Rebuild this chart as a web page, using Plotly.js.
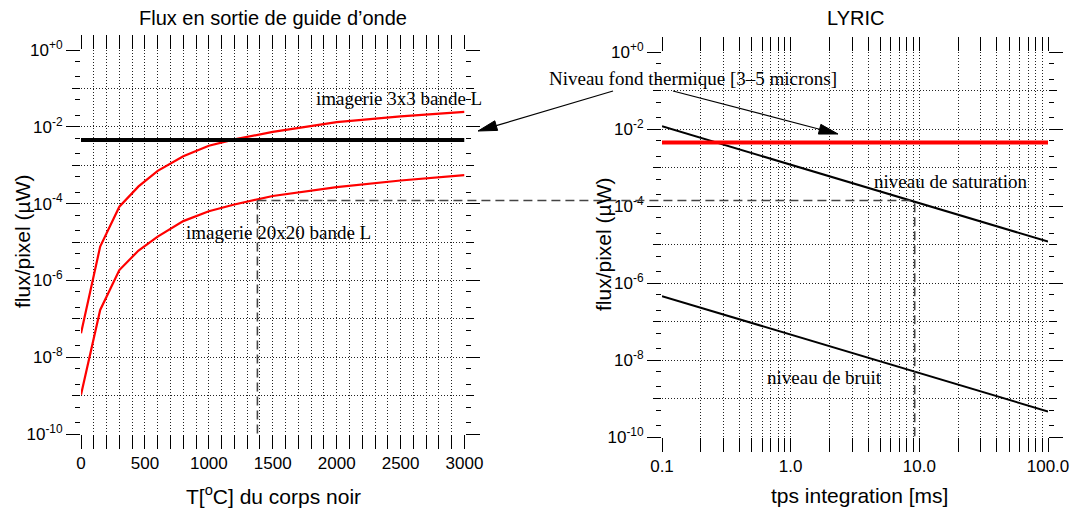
<!DOCTYPE html>
<html><head><meta charset="utf-8">
<script src="https://cdn.plot.ly/plotly-3.0.1.min.js"></script>
<style>html,body{margin:0;padding:0;background:#fff}</style>
</head><body><div id="chart" style="width:1070px;height:512px"></div>
<script>
// ---- data ----
const tempC      = [0, 150, 300, 450, 600, 800, 1000, 1200, 1500, 2000, 2500, 3000];
const flux3x3    = [4.2e-8, 7.6e-6, 8.3e-5, 2.8e-4, 7.1e-4, 1.7e-3, 3.2e-3, 4.7e-3, 7.4e-3, 1.32e-2, 1.86e-2, 2.45e-2];
const flux20x20  = [1.05e-9, 1.7e-7, 1.86e-6, 6.0e-6, 1.38e-5, 3.5e-5, 6.3e-5, 9.5e-5, 1.58e-4, 2.7e-4, 4.0e-4, 5.5e-4];
const tempSpan   = [0, 3000];
const thermalLevel = [4.5e-3, 4.5e-3];
const tInt       = [0.1, 100];
const saturation = [1.2e-2, 1.2e-5];
const noise      = [4.6e-7, 4.6e-10];
const markerFlux = 1.2e-4;
const markerTemp = 1380;
const markerTime = 9.2;
const fluxFloor  = 1e-10;

const xTickT     = [0, 500, 1000, 1500, 2000, 2500, 3000];
const xTickMs    = [0.1, 1, 10, 100];
const xTickMsTxt = ['0.1', '1.0', '10.0', '100.0'];
const yTickVals  = [1e0, 1e-2, 1e-4, 1e-6, 1e-8, 1e-10];
const yTickTxt   = ['10<sup>+0</sup>', '10<sup>-2</sup>', '10<sup>-4</sup>', '10<sup>-6</sup>', '10<sup>-8</sup>', '10<sup>-10</sup>'];
const yOddDec    = [1e-1, 1e-3, 1e-5, 1e-7, 1e-9];

// ---- derived tick lists ----
const yFine = [];
for (let e = -10; e < 0; e++) { yFine.push(2 * Math.pow(10, e), 5 * Math.pow(10, e)); }
const xMinorMs = [];
for (let e = -1; e < 2; e++) { for (let m = 2; m <= 9; m++) xMinorMs.push(m * Math.pow(10, e)); }

// ---- geometry ----
const W = 1070, H = 512, ML = 81, MR = 22, MT = 50, MB = 75;
const PW = W - ML - MR, PH = H - MT - MB;
const px = v => (v - ML) / PW;
const py = v => (H - MB - v) / PH;
const xDomL = [px(81), px(464.5)], xDomR = [px(662), 1];
const yDomL = [py(434), py(50)],   yDomR = [0, py(52.3)];
const xL = v => xDomL[0] + (v - tempSpan[0]) / (tempSpan[1] - tempSpan[0]) * (xDomL[1] - xDomL[0]);
const xR = v => xDomR[0] + (Math.log10(v) + 1) / 3 * (xDomR[1] - xDomR[0]);
const yL = v => yDomL[0] + (Math.log10(v) + 10) / 10 * (yDomL[1] - yDomL[0]);
const yR = v => yDomR[0] + (Math.log10(v) + 10) / 10 * (yDomR[1] - yDomR[0]);

const SANS = 'Liberation Sans, Arial, Helvetica, sans-serif';
const SERIF = 'Liberation Serif, Times New Roman, serif';
const GRID = {showgrid: true, gridcolor: '#222', gridwidth: 1, griddash: '1px,2px'};

const traces = [
  {x: tempC, y: flux3x3, xaxis: 'x', yaxis: 'y', mode: 'lines', line: {color: '#ff0000', width: 2.2}, hoverinfo: 'skip'},
  {x: tempC, y: flux20x20, xaxis: 'x', yaxis: 'y', mode: 'lines', line: {color: '#ff0000', width: 2.2}, hoverinfo: 'skip'},
  {x: tempSpan, y: thermalLevel, xaxis: 'x', yaxis: 'y3', mode: 'lines', line: {color: '#000', width: 4}, hoverinfo: 'skip'},
  {x: tInt, y: thermalLevel, xaxis: 'x2', yaxis: 'y4', mode: 'lines', line: {color: '#ff0000', width: 4}, hoverinfo: 'skip'},
  {x: tInt, y: saturation, xaxis: 'x2', yaxis: 'y2', mode: 'lines', line: {color: '#000', width: 2}, hoverinfo: 'skip'},
  {x: tInt, y: noise, xaxis: 'x2', yaxis: 'y2', mode: 'lines', line: {color: '#000', width: 2}, hoverinfo: 'skip'}
];

const tickBase = {ticks: 'outside', ticklen: 14, tickwidth: 1, tickcolor: '#000', mirror: 'allticks',
  showline: false, zeroline: false, tickfont: {family: SANS, size: 17, color: '#000'}};

function yMain(dom, anchor) {
  return Object.assign({}, tickBase, GRID, {
    domain: dom, anchor: anchor, type: 'log', range: [-10, 0],
    tickmode: 'array', tickvals: yTickVals, ticktext: yTickTxt,
    minor: Object.assign({tickmode: 'array', tickvals: yOddDec, ticks: 'outside', ticklen: 8, tickcolor: '#000'}, GRID)
  });
}
function yOver(over, anchor) {
  return {overlaying: over, anchor: anchor, side: 'left', type: 'log', range: [-10, 0],
    tickmode: 'array', tickvals: yFine, ticks: 'outside', ticklen: 5, tickcolor: '#000', tickwidth: 1,
    mirror: 'allticks', showticklabels: false, showgrid: false, zeroline: false, showline: false};
}

// ---- dashed guide lines & arrows (paper coords from the axis mappings) ----
const DASH = {color: '#444', width: 1.6, dash: '9px,5px'};
const shapes = [
  {type: 'line', xref: 'paper', yref: 'paper', x0: xL(markerTemp), x1: xR(markerTime), y0: yL(markerFlux), y1: yL(markerFlux), line: DASH},
  {type: 'line', xref: 'paper', yref: 'paper', x0: xL(markerTemp), x1: xL(markerTemp), y0: yL(markerFlux), y1: yL(fluxFloor), line: DASH},
  {type: 'line', xref: 'paper', yref: 'paper', x0: xR(markerTime), x1: xR(markerTime), y0: yR(markerFlux), y1: yR(fluxFloor), line: DASH}
];
function arrow(tx, ty, hx, hy) {
  const dx = hx - tx, dy = hy - ty, L = Math.hypot(dx, dy), ux = dx / L, uy = dy / L;
  const bx = hx - 19 * ux, by = hy - 19 * uy, nx = -uy * 5, ny = ux * 5;
  shapes.push({type: 'line', xref: 'paper', yref: 'paper', x0: px(tx), y0: py(ty), x1: px(bx), y1: py(by), line: {color: '#000', width: 1.2}});
  shapes.push({type: 'path', xref: 'paper', yref: 'paper', fillcolor: '#000', line: {color: '#000', width: 1},
    path: `M ${px(hx)} ${py(hy)} L ${px(bx + nx)} ${py(by + ny)} L ${px(bx - nx)} ${py(by - ny)} Z`});
}
arrow(613, 91, 478, 131);
arrow(673, 91, 838, 134);

function txt(text, x, y, opts) {
  return Object.assign({text: text, xref: 'paper', yref: 'paper', x: px(x), y: py(y), showarrow: false,
    xanchor: 'center', yanchor: 'middle', font: {family: SANS, size: 21, color: '#000'}}, opts || {});
}
const serif = {family: SERIF, size: 19, color: '#000'};
const annotations = [
  txt('Flux en sortie de guide d\u2019onde', 272.5, 18, {font: {family: SANS, size: 20, color: '#000'}}),
  txt('LYRIC', 855, 18, {font: {family: SANS, size: 20, color: '#000'}}),
  txt('T[<sup>o</sup>C] du corps noir', 273, 495),
  txt('tps integration [ms]', 859, 495),
  txt('flux/pixel (\u00b5W)', 22, 242, {textangle: -90}),
  txt('flux/pixel (\u00b5W)', 603, 245, {textangle: -90}),
  txt('imagerie 3x3 bande L', 314, 99, {xanchor: 'left', font: serif}),
  txt('imagerie 20x20 bande L', 184, 233, {xanchor: 'left', font: serif}),
  txt('Niveau fond thermique [3\u20135 microns]', 547, 78, {xanchor: 'left', font: serif}),
  txt('niveau de saturation', 872, 181, {xanchor: 'left', font: serif}),
  txt('niveau de bruit', 765, 377, {xanchor: 'left', font: serif})
];

const layout = {
  width: W, height: H, margin: {l: ML, r: MR, t: MT, b: MB, pad: 0},
  paper_bgcolor: '#fff', plot_bgcolor: '#fff', showlegend: false,
  xaxis: Object.assign({}, tickBase, GRID, {domain: xDomL, anchor: 'y', range: tempSpan,
    tickmode: 'array', tickvals: xTickT,
    minor: Object.assign({tick0: 0, dtick: 100, ticks: 'outside', ticklen: 7, tickcolor: '#000'}, GRID)}),
  xaxis2: Object.assign({}, tickBase, GRID, {domain: xDomR, anchor: 'y2', type: 'log', range: [-1, 2],
    tickmode: 'array', tickvals: xTickMs, ticktext: xTickMsTxt,
    minor: Object.assign({tickmode: 'array', tickvals: xMinorMs, ticks: 'outside', ticklen: 7, tickcolor: '#000'}, GRID)}),
  yaxis: yMain(yDomL, 'x'),
  yaxis2: yMain(yDomR, 'x2'),
  yaxis3: yOver('y', 'x'),
  yaxis4: yOver('y2', 'x2'),
  shapes: shapes,
  annotations: annotations
};

Plotly.newPlot('chart', traces, layout, {staticPlot: true, displayModeBar: false});
</script>
</body></html>
